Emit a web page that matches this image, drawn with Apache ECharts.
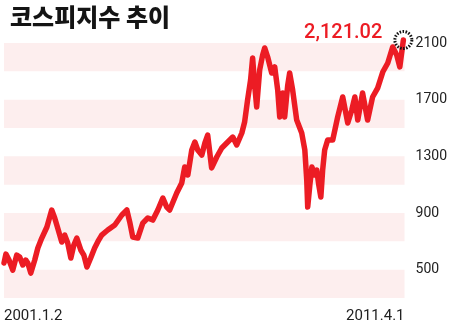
<!DOCTYPE html>
<html>
<head>
<meta charset="utf-8">
<script src="https://cdn.jsdelivr.net/npm/echarts@6/dist/echarts.min.js"></script>
<style>
html,body{margin:0;padding:0;background:#fff;}
#chart{width:450px;height:325px;}
</style>
</head>
<body>
<div id="chart"></div>
<script>
const titleText = '코스피지수 추이';
const lastValueLabel = '2,121.02';
const xTickLabels = ['2001.1.2', '2011.4.1'];
const yTickValues = [500, 900, 1300, 1700, 2100];

const dates = [
'2001-01-02','2001-01-20','2001-02-18','2001-03-25','2001-05-01','2001-05-29','2001-06-27','2001-07-25','2001-08-13','2001-09-10','2001-10-17','2001-11-15','2001-12-22',
'2002-02-08','2002-03-25','2002-04-22','2002-05-20','2002-06-27','2002-07-25','2002-08-22','2002-09-20','2002-10-18','2002-11-15','2002-12-22',
'2003-01-20','2003-02-18','2003-03-25','2003-05-01','2003-06-08','2003-07-06','2003-09-01','2003-11-06',
'2004-01-11','2004-02-27','2004-03-25','2004-04-22','2004-06-08','2004-07-25','2004-09-10','2004-10-27','2004-12-13',
'2005-01-29','2005-03-06','2005-04-03','2005-06-08','2005-07-25','2005-08-22','2005-09-20','2005-10-27','2005-11-25','2005-12-22',
'2006-01-29','2006-02-27','2006-03-25','2006-05-01','2006-06-18','2006-08-04','2006-09-29','2006-11-15','2006-12-22',
'2007-02-08','2007-03-06','2007-04-03','2007-05-01','2007-05-20','2007-06-08','2007-06-27','2007-07-25','2007-08-22','2007-09-10','2007-10-08','2007-11-15','2007-12-13',
'2008-01-10','2008-01-29','2008-02-27','2008-03-15','2008-04-13','2008-05-01','2008-05-29','2008-07-06','2008-08-22','2008-09-20','2008-10-08','2008-10-17','2008-11-06','2008-11-25','2008-12-22',
'2009-01-10','2009-01-29','2009-02-17','2009-03-06','2009-03-25','2009-04-22','2009-06-08','2009-07-25','2009-09-10','2009-10-27','2009-12-04',
'2010-01-02','2010-01-29','2010-03-15','2010-05-01','2010-06-17','2010-08-03','2010-09-20','2010-11-06','2010-12-22',
'2011-01-29','2011-02-27','2011-04-01'
];
const values = [
547,610,568,497,603,589,533,568,547,476,568,653,723,
801,921,865,794,695,744,688,582,674,723,639,
603,519,582,653,709,744,780,815,
886,921,836,730,723,829,865,850,921,
1006,942,921,1041,1112,1225,1168,1345,1401,1345,
1309,1394,1450,1218,1295,1359,1401,1436,1380,
1465,1542,1698,1839,1994,1803,1648,1909,2015,2065,2001,1888,1931,
1768,1578,1747,1578,1803,1888,1768,1556,1465,1345,1133,942,1097,1225,1168,
1203,1097,1013,1203,1345,1415,1415,1578,1719,1535,1627,
1719,1556,1747,1556,1719,1782,1895,1959,2072,
2015,1931,2121
];

const toTime = d => new Date(d).getTime();
const minTime = toTime(dates[0]);
const maxTime = toTime('2011-04-12');
const lineData = dates.map((d, i) => [toTime(d), values[i]]);
const lastPoint = lineData[lineData.length - 1];

const chart = echarts.init(document.getElementById('chart'));
chart.setOption({
  animation: false,
  backgroundColor: '#fff',
  title: {
    text: titleText,
    left: 5, top: 0,
    textStyle: { fontFamily: 'Noto Sans CJK KR', fontSize: 24, fontWeight: 900, color: '#141414' }
  },
  grid: { left: 4, right: 43, top: 43, bottom: 27 },
  xAxis: {
    type: 'value',
    min: minTime, max: maxTime,
    interval: maxTime - minTime,
    axisLine: { show: false }, axisTick: { show: false }, splitLine: { show: false },
    axisLabel: {
      fontFamily: 'Roboto', fontSize: 15, color: '#222', margin: 11,
      alignMinLabel: 'left', alignMaxLabel: 'right',
      formatter: v => (v === minTime ? xTickLabels[0] : xTickLabels[1])
    }
  },
  yAxis: {
    type: 'value', position: 'right',
    min: 300, max: 2100, interval: 200,
    axisLine: { show: false }, axisTick: { show: false }, splitLine: { show: false },
    splitArea: { show: true, areaStyle: { color: ['#fdeeee', 'rgba(255,255,255,0)'] } },
    axisLabel: {
      fontFamily: 'Roboto', fontSize: 14, color: '#222', margin: 11,
      padding: [3, 0, 0, 0],
      formatter: v => (yTickValues.indexOf(v) >= 0 ? String(v) : '')
    }
  },
  series: [{
    type: 'line',
    data: lineData,
    showSymbol: false,
    clip: false,
    lineStyle: { color: '#ec1c24', width: 5.5, join: 'round', cap: 'round' },
    z: 2
  }, {
    type: 'scatter',
    data: [lastPoint],
    clip: false,
    symbol: 'circle', symbolSize: 17,
    itemStyle: { color: 'rgba(0,0,0,0)', opacity: 1, borderColor: '#111', borderWidth: 3, borderType: [1.5, 1.5] },
    label: {
      show: true, position: 'left', distance: 11, offset: [0, -7],
      formatter: lastValueLabel,
      fontFamily: 'Roboto', fontSize: 20, fontWeight: 500, color: '#ec1c24', opacity: 1
    },
    z: 3
  }]
});
</script>
</body>
</html>
